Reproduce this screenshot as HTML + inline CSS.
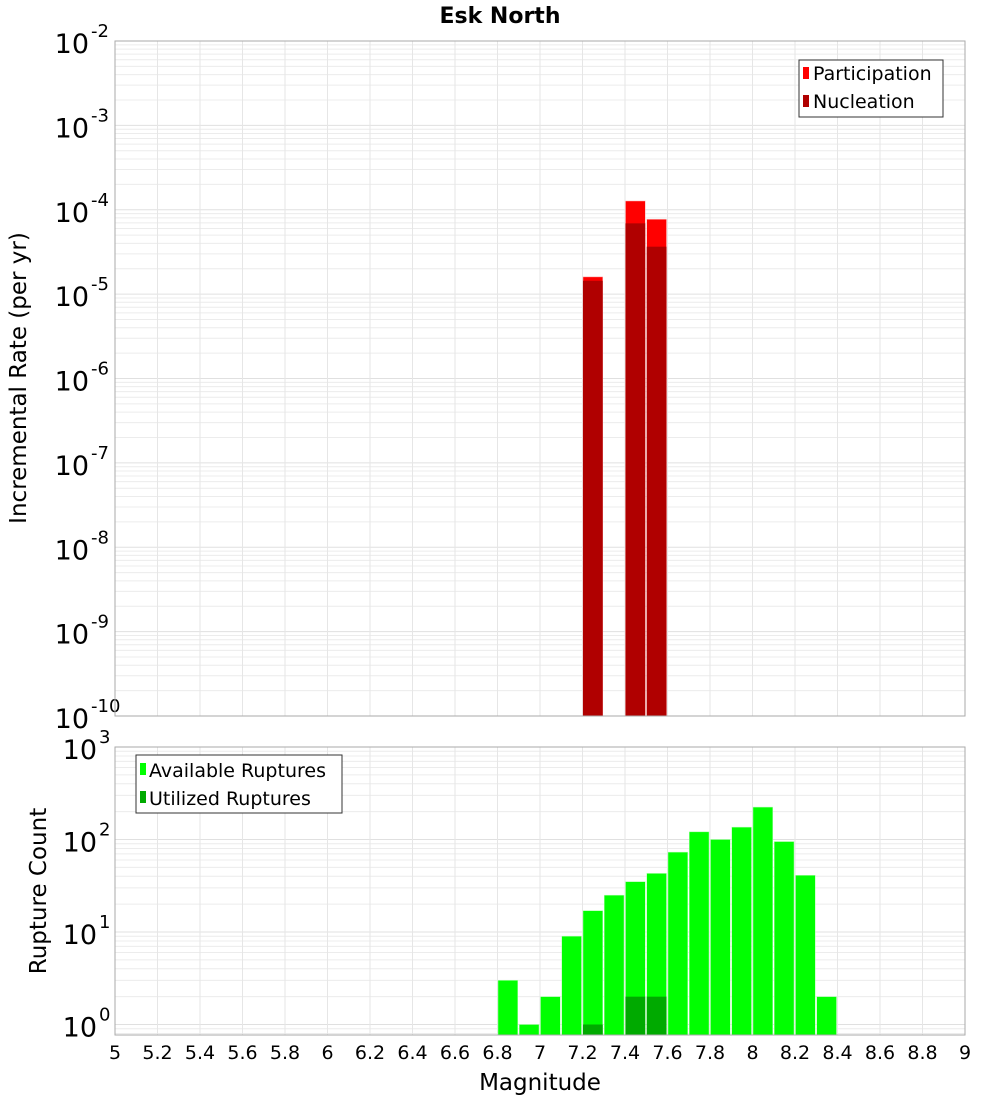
<!DOCTYPE html>
<html><head><meta charset="utf-8"><style>
body{margin:0;background:#fff;width:1000px;height:1100px;overflow:hidden}
svg text{font-family:"DejaVu Sans","Liberation Sans",sans-serif}
</style></head><body>
<svg id="c" width="1000" height="1100" xmlns="http://www.w3.org/2000/svg">
<text x="500" y="23" text-anchor="middle" font-size="22" font-weight="bold">Esk North</text>
<text transform="translate(26,378) rotate(-90)" text-anchor="middle" font-size="23">Incremental Rate (per yr)</text>
<text transform="translate(46,891) rotate(-90)" text-anchor="middle" font-size="23">Rupture Count</text>
<text x="540" y="1090" text-anchor="middle" font-size="23">Magnitude</text>
<g id="topPanel"></g><g id="botPanel"></g>
<g>
<rect x="799" y="60" width="144" height="57" fill="#fff" stroke="#333"/>
<rect x="803" y="67" width="6" height="12" fill="#ff0000"/>
<text x="813" y="80" font-size="19">Participation</text>
<rect x="803" y="95" width="6" height="12" fill="#b00000"/>
<text x="813" y="108" font-size="19">Nucleation</text>
</g>
<g>
<rect x="136" y="755" width="206" height="58" fill="#fff" stroke="#333"/>
<rect x="140" y="763" width="6" height="12" fill="#00ff00"/>
<text x="149" y="777" font-size="19">Available Ruptures</text>
<rect x="140" y="791" width="6" height="12" fill="#00aa00"/>
<text x="149" y="805" font-size="19">Utilized Ruptures</text>
</g>
</svg>
<script>
const mags=[6.85,6.95,7.05,7.15,7.25,7.35,7.45,7.55,7.65,7.75,7.85,7.95,8.05,8.15,8.25,8.35];
const available=[3,1,2,9,17,25,35,43,73,121,100,136,224,95,41,2];
const utilMags=[7.25,7.45,7.55];
const utilized=[1,2,2];
const rateMags=[7.25,7.45,7.55];
const participation=[1.6e-5,1.27e-4,7.7e-5];
const nucleation=[1.44e-5,6.9e-5,3.65e-5];
const xTicks=[5,5.2,5.4,5.6,5.8,6,6.2,6.4,6.6,6.8,7,7.2,7.4,7.6,7.8,8,8.2,8.4,8.6,8.8,9];
const NS="http://www.w3.org/2000/svg";
const X0=115,X1=965;
const xs=m=>X0+(m-5)/4*(X1-X0);
const yTop=v=>41+(-2-Math.log10(v))*84.375;
const yBot=v=>747+(3-Math.log10(v))*92.5;
function el(p,t,a){const e=document.createElementNS(NS,t);for(const k in a)e.setAttribute(k,a[k]);p.appendChild(e);return e;}
function panel(g,y0,y1,yf,dmin,dmax,name){
  el(g,'rect',{x:X0,y:y0,width:X1-X0,height:y1-y0,fill:'#fff'});
  for(let d=dmin-1;d<dmax;d++)for(let k=1;k<10;k++){const yy=yf(k*Math.pow(10,d));if(yy<y0||yy>y1)continue;
    el(g,'line',{x1:X0,x2:X1,y1:yy,y2:yy,stroke:k==1?'#e0e0e0':'#ececec','stroke-width':1});}
  xTicks.forEach(t=>{el(g,'line',{x1:xs(t),x2:xs(t),y1:y0,y2:y1,stroke:'#e6e6e6'});});
  for(let d=dmin;d<=dmax;d++){const yy=yf(Math.pow(10,d));
    const t=el(g,'text',{x:(d<0?89:97),y:yy+12,'text-anchor':'end','font-size':27});
    
    
    t.textContent='10';
    const s=el(g,'text',{x:(d<0?91:99),y:yy-4,'font-size':18});
    
    
    s.textContent=String(d);}
}
const gTop=document.getElementById('topPanel'),gBot=document.getElementById('botPanel');
panel(gTop,41,716,yTop,-10,-2,'top');
panel(gBot,747,1035,yBot,0,3,'bottom');
const w=xs(5.1)-xs(5)-1.5;
rateMags.forEach((m,i)=>{
  const r=el(gTop,'rect',{x:xs(m-0.05)+0.5,y:yTop(participation[i]),width:w,height:716-yTop(participation[i]),fill:'#ff0000',stroke:'#ffb0b0','stroke-width':0.5});
  
  
  const n=el(gTop,'rect',{x:xs(m-0.05)+0.5,y:yTop(nucleation[i]),width:w,height:716-yTop(nucleation[i]),fill:'#b00000'});
  
  
});
mags.forEach((m,i)=>{
  const r=el(gBot,'rect',{x:xs(m-0.05)+0.5,y:yBot(available[i]),width:w,height:1035-yBot(available[i]),fill:'#00ff00',stroke:'#b0ffb0','stroke-width':0.5});
  
  
});
utilMags.forEach((m,i)=>{
  const r=el(gBot,'rect',{x:xs(m-0.05)+0.5,y:yBot(utilized[i]),width:w,height:1035-yBot(utilized[i]),fill:'#00aa00'});
  
  
});
el(gTop,'rect',{x:X0,y:41,width:X1-X0,height:675,fill:'none',stroke:'#aaa'});
el(gBot,'rect',{x:X0,y:747,width:X1-X0,height:288,fill:'none',stroke:'#aaa'});
xTicks.forEach(t=>{
  const e=el(gBot,'text',{x:xs(t),y:1059,'text-anchor':'middle','font-size':19});
  
  
  e.textContent=String(t);
});
</script>
</body></html>
